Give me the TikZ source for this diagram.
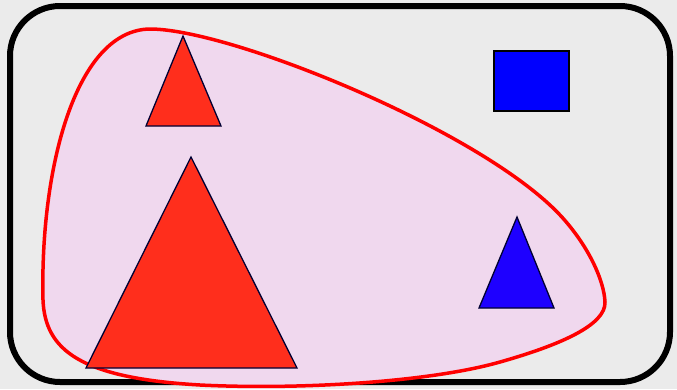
\documentclass[tikz,border=0pt]{standalone}
\usepackage{xcolor}
\usepackage{tikz}
\usetikzlibrary{arrows.meta,positioning}

\definecolor{paper}{RGB}{235,235,235}
\definecolor{blobpink}{RGB}{240,216,238}
\definecolor{trired}{RGB}{255,46,28}
\definecolor{triblue}{RGB}{30,0,255}

\begin{document}
\begin{tikzpicture}[
    x=1pt, y=-1pt,
    frame/.style={draw=black, line width=6pt, rounded corners=50pt},
    blob/.style={draw=red, line width=3.5pt, fill=blobpink},
    redtri/.style={draw=black!80!blue, line width=1.3pt, fill=trired, line join=miter},
    bluetri/.style={draw=black!80!blue, line width=1.3pt, fill=triblue, line join=miter},
    sq/.style={draw=black, line width=1.6pt, fill=blue}
]
\useasboundingbox (0,0) rectangle (677,389);
\fill[paper] (0,0) rectangle (677,389);

\draw[frame] (10,6) rectangle (670,382);

% the set
\draw[blob] (43,300) .. controls (40,170) and (75,30) .. (150,29)
  .. controls (230,29) and (480,130) .. (560,215)
  .. controls (588,245) and (604,280) .. (605,302)
  .. controls (606,325) and (560,345) .. (500,362)
  .. controls (430,382) and (300,390) .. (200,385)
  .. controls (80,378) and (45,350) .. (43,300) -- cycle;

\coordinate (sA) at (183,36);
\coordinate (sB) at (146,126);
\coordinate (sC) at (221,126);
\coordinate (bA) at (191,157);
\coordinate (bB) at (86,368);
\coordinate (bC) at (297,368);
\coordinate (tA) at (517,217);
\coordinate (tB) at (479,308);
\coordinate (tC) at (554,308);

\draw[redtri] (sA) -- (sB) -- (sC) -- cycle;
\draw[redtri] (bA) -- (bB) -- (bC) -- cycle;
\draw[bluetri] (tA) -- (tB) -- (tC) -- cycle;
\draw[sq] (494,51) rectangle (569,111);
\end{tikzpicture}
\end{document}
